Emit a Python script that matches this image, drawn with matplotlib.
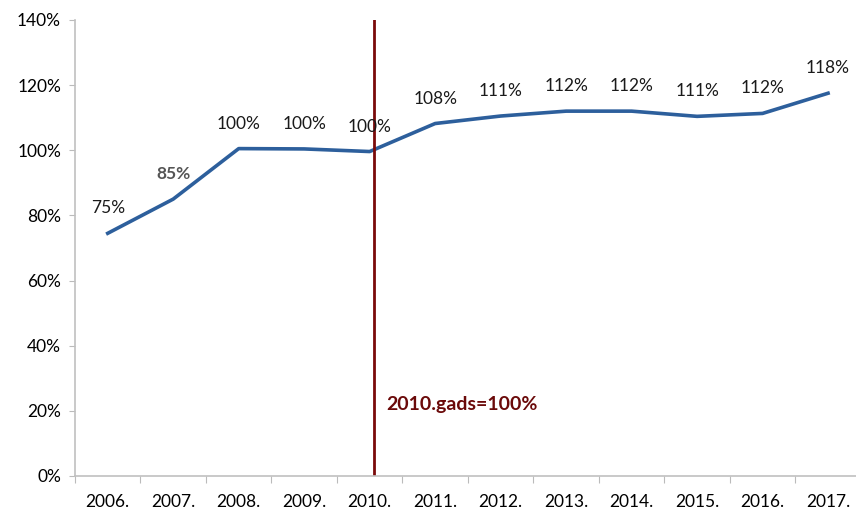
import matplotlib

matplotlib.use("Agg")
import matplotlib.pyplot as plt
import numpy as np

years = ["2006.", "2007.", "2008.", "2009.", "2010.", "2011.",
         "2012.", "2013.", "2014.", "2015.", "2016.", "2017."]
values = [74.5, 85.0, 100.5, 100.4, 99.6, 108.2, 110.5, 112.0, 112.0, 110.4, 111.3, 117.5]
labels = ["75%", "85%", "100%", "100%", "100%", "108%",
          "111%", "112%", "112%", "111%", "112%", "118%"]
base_year_index = 4
base_note = "2010.gads=100%"

plt.rcParams["font.family"] = ["Lato", "DejaVu Sans"]

fig = plt.figure(figsize=(8.56, 5.11), dpi=100)
ax = fig.add_axes([0.0876, 0.0685, 0.918, 0.8925])

x = np.arange(len(years))
ax.plot(x, values, color="#2d5f9c", lw=2.6, solid_joinstyle="round")

for i, (v, lab) in enumerate(zip(values, labels)):
    col = "#555555" if i == 1 else "#1a1a1a"
    weight = "bold" if i == 1 else "normal"
    ax.annotate(lab, (i, v), xytext=(0, 18), textcoords="offset points",
                ha="center", va="center", fontsize=12.5, color=col,
                fontweight=weight)

# base-year marker
ax.axvline(base_year_index + 0.06, ymin=0, ymax=1, color="#7a0a0a", lw=2)
ax.text(base_year_index + 0.25, 22, base_note, color="#6b0a0a",
        fontsize=14, fontweight="bold", ha="left", va="center")

ax.set_xlim(-0.5, len(years) - 0.5)
ax.set_ylim(0, 140)
ax.set_yticks(np.arange(0, 141, 20))
ax.set_yticklabels([f"{t}%" for t in range(0, 141, 20)], fontsize=12.5)

ax.set_xticks(np.arange(-0.5, len(years), 1.0))
ax.set_xticklabels([])
ax.set_xticks(x, minor=True)
ax.set_xticklabels(years, minor=True, fontsize=12.5)
ax.tick_params(axis="x", which="minor", length=0, pad=13)
ax.tick_params(axis="x", which="major", length=5, color="#bbbbbb")
ax.tick_params(axis="y", length=4, color="#bbbbbb", pad=6)

for side in ("top", "right"):
    ax.spines[side].set_visible(False)
for side in ("left", "bottom"):
    ax.spines[side].set_color("#c0c0c0")
    ax.spines[side].set_linewidth(1.2)

fig.savefig("out.png", dpi=100)
